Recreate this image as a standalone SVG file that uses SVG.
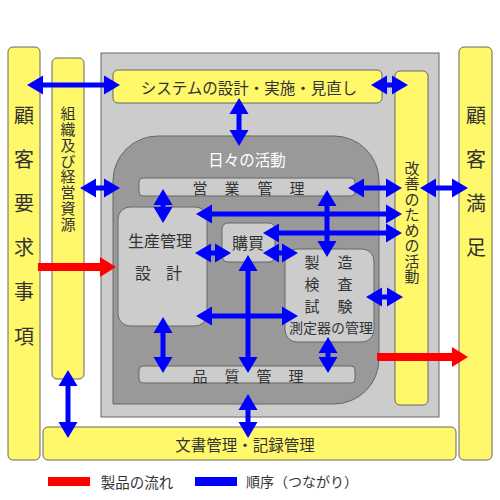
<svg xmlns="http://www.w3.org/2000/svg" width="500" height="500" viewBox="0 0 500 500">
<style>
text{font-family:"Noto Sans CJK JP","Noto Sans",sans-serif;fill:#333;text-anchor:middle;dominant-baseline:central}
.y{fill:#fff86b;stroke:#666;stroke-width:1}
.g{fill:#cccccc;stroke:#666;stroke-width:1}
.d{fill:#999999;stroke:#666;stroke-width:1}
.b{stroke:#0000ff;stroke-width:5;marker-start:url(#bh);marker-end:url(#bh)}
.r{stroke:#ff0000;stroke-width:8;marker-end:url(#rh)}
</style>
<defs>
<marker id="bh" markerUnits="userSpaceOnUse" markerWidth="16" markerHeight="19" refX="0" refY="9.5" orient="auto-start-reverse" overflow="visible"><path d="M0,0 L16,9.5 L0,19 Z" fill="#0000ff"/></marker>
<marker id="rh" markerUnits="userSpaceOnUse" markerWidth="16" markerHeight="20" refX="0" refY="10" orient="auto" overflow="visible"><path d="M0,0 L16,10 L0,20 Z" fill="#ff0000"/></marker>
</defs>
<rect width="500" height="500" fill="#fff"/>
<g id="bg"><rect x="101" y="53" width="338" height="364" fill="#cccccc" stroke="#666"/></g>
<g id="req"><rect class="y" x="8" y="47" width="32" height="413" rx="5"/>
<text font-size="20" x="24 24 24 24 24 24" y="114 158 202 246 290 335">顧客要求事項</text></g>
<g id="res"><rect class="y" x="52" y="58" width="32" height="321" rx="5"/>
<text font-size="15" x="68 68 68 68 68 68 68 68" y="112 128 144 160 175 191 207 223">組織及び経営資源</text></g>
<g id="sys"><rect class="y" x="113" y="70" width="269" height="33" rx="5"/>
<text font-size="15.5" x="249" y="87">システムの設計・実施・見直し</text></g>
<g id="imp"><rect class="y" x="395" y="71" width="33" height="334" rx="5"/>
<text font-size="15" x="412 412 412 412 412 412 412 412" y="167 182.5 198 213.5 229 244.5 260 275.5">改善のための活動</text></g>
<g id="sat"><rect class="y" x="459" y="47" width="33" height="413" rx="5"/>
<text font-size="20" x="476 476 476 476" y="114 158 202 246">顧客満足</text></g>
<g id="doc"><rect class="y" x="43" y="427" width="413" height="33" rx="5"/>
<text font-size="15.5" x="245" y="444">文書管理・記録管理</text></g>
<g id="daily"><path class="d" d="M113,404 V181 A45,45 0 0 1 158,136 H334 A45,45 0 0 1 379,181 V359 A45,45 0 0 1 334,404 Z"/>
<text font-size="15.5" x="247" y="159" style="fill:#fff">日々の活動</text></g>
<g id="sales"><rect class="g" x="139" y="178" width="216" height="18" rx="4"/>
<text font-size="15" x="200 232 265 297" y="187">営業管理</text></g>
<g id="prod"><rect class="g" x="118" y="207" width="89" height="119" rx="12"/>
<text font-size="16" x="160" y="240">生産管理</text>
<text font-size="16" x="143 174" y="272">設計</text></g>
<g id="buy"><rect class="g" x="222" y="223" width="53" height="39" rx="6"/>
<text font-size="16" x="248" y="242">購買</text></g>
<g id="mfg"><rect class="g" x="285" y="249" width="89" height="93" rx="12"/>
<text font-size="15" x="312 345" y="261">製造</text>
<text font-size="15" x="312 345" y="283">検査</text>
<text font-size="15" x="312 345" y="305">試験</text>
<text font-size="14" x="331" y="327">測定器の管理</text></g>
<g id="qm"><rect class="g" x="139" y="366" width="216" height="17" rx="4"/>
<text font-size="15" x="200 232 264 296" y="375">品質管理</text></g>
<g id="connectors">
<line class="b" x1="43" y1="85" x2="104" y2="85"/>
<line class="b" x1="387" y1="85" x2="392" y2="85"/>
<line class="b" x1="239" y1="114" x2="239" y2="130"/>
<line class="b" x1="96" y1="188" x2="104" y2="188"/>
<line class="b" x1="163" y1="205" x2="163" y2="207"/>
<line class="b" x1="364" y1="188" x2="386" y2="188"/>
<line class="b" x1="436" y1="188" x2="452" y2="188"/>
<line class="b" x1="327" y1="206" x2="327" y2="241"/>
<line class="b" x1="212" y1="214" x2="386" y2="214"/>
<line class="b" x1="279" y1="233" x2="386" y2="233"/>
<line class="b" x1="211" y1="253" x2="215" y2="253"/>
<line class="b" x1="279" y1="253" x2="282" y2="253"/>
<line class="b" x1="248" y1="271" x2="248" y2="357"/>
<line class="b" x1="212" y1="316" x2="282" y2="316"/>
<line class="b" x1="163" y1="333" x2="163" y2="357"/>
<line class="b" x1="328" y1="353" x2="328" y2="357"/>
<line class="b" x1="382" y1="297" x2="387" y2="297"/>
<line class="b" x1="68" y1="386" x2="68" y2="422"/>
<line class="b" x1="248" y1="410" x2="248" y2="422"/>
<line class="r" x1="38" y1="267" x2="100" y2="267"/>
<line class="r" x1="377" y1="357" x2="452" y2="357"/>
</g>
<g id="legend">
<rect x="48" y="477" width="42" height="9" fill="#ff0000"/>
<text font-size="14.5" x="137" y="481">製品の流れ</text>
<rect x="195" y="477" width="42" height="9" fill="#0000ff"/>
<text font-size="14" x="302" y="481">順序（つながり）</text>
</g>
</svg>
